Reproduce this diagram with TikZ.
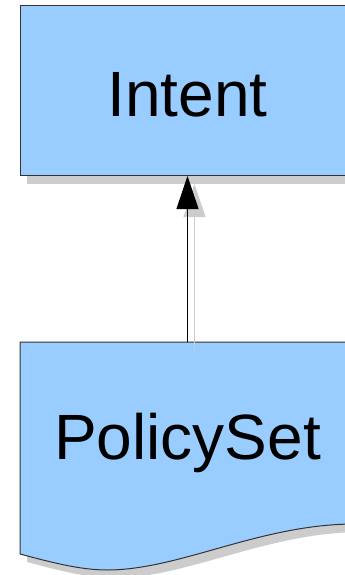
\documentclass[tikz,border=0pt]{standalone}
\usepackage{fontspec}
\setmainfont{Liberation Sans}
\usetikzlibrary{arrows.meta,shadows}

\definecolor{boxblue}{HTML}{99CCFF}
\definecolor{shadowgray}{HTML}{CCCCCC}
\definecolor{edgegray}{HTML}{333333}

\tikzset{
  boxshadow/.style={drop shadow={shadow xshift=7pt, shadow yshift=-8pt, fill=shadowgray, opacity=1}},
  classbox/.style={draw=edgegray, line width=1pt, fill=boxblue, boxshadow,
    minimum width=335pt, minimum height=170pt, inner sep=0pt,
    text height=53pt, text depth=0pt},
  docbox/.style={draw=edgegray, line width=1pt, fill=boxblue, boxshadow},
  bigtext/.style={font=\fontsize{64}{70}\selectfont},
  link/.style={draw=black, line width=0.9pt, -{Triangle[length=33pt,width=22pt]}},
  linkshadow/.style={draw=shadowgray, line width=0.9pt, -{Triangle[length=33pt,width=22pt]}}
}

\begin{document}
\begin{tikzpicture}[x=1pt,y=-1pt]
    \useasboundingbox (0,0) rectangle (345,575);
    \clip (0,0) rectangle (345,575);

    % Upper box
    \node[classbox, bigtext] (intent) at (187.5,90.5) {Intent};

    % Lower document shape with wavy bottom
    \path[docbox] (20,342) -- (355,342) -- (355,524)
        .. controls (260,524) and (180,570) .. (107,570)
        .. controls (80,570) and (50,562) .. (20,554) -- cycle;
    \node[bigtext, anchor=base] (policyset) at (187.5,459) {PolicySet};
    \coordinate (doctop) at (187.5,342);

    % Arrow and its shadow
    \draw[linkshadow] ([shift={(7,8)}]doctop) -- ([shift={(7,8)}]intent.south);
    \draw[link] (doctop) -- (intent.south);
\end{tikzpicture}
\end{document}
